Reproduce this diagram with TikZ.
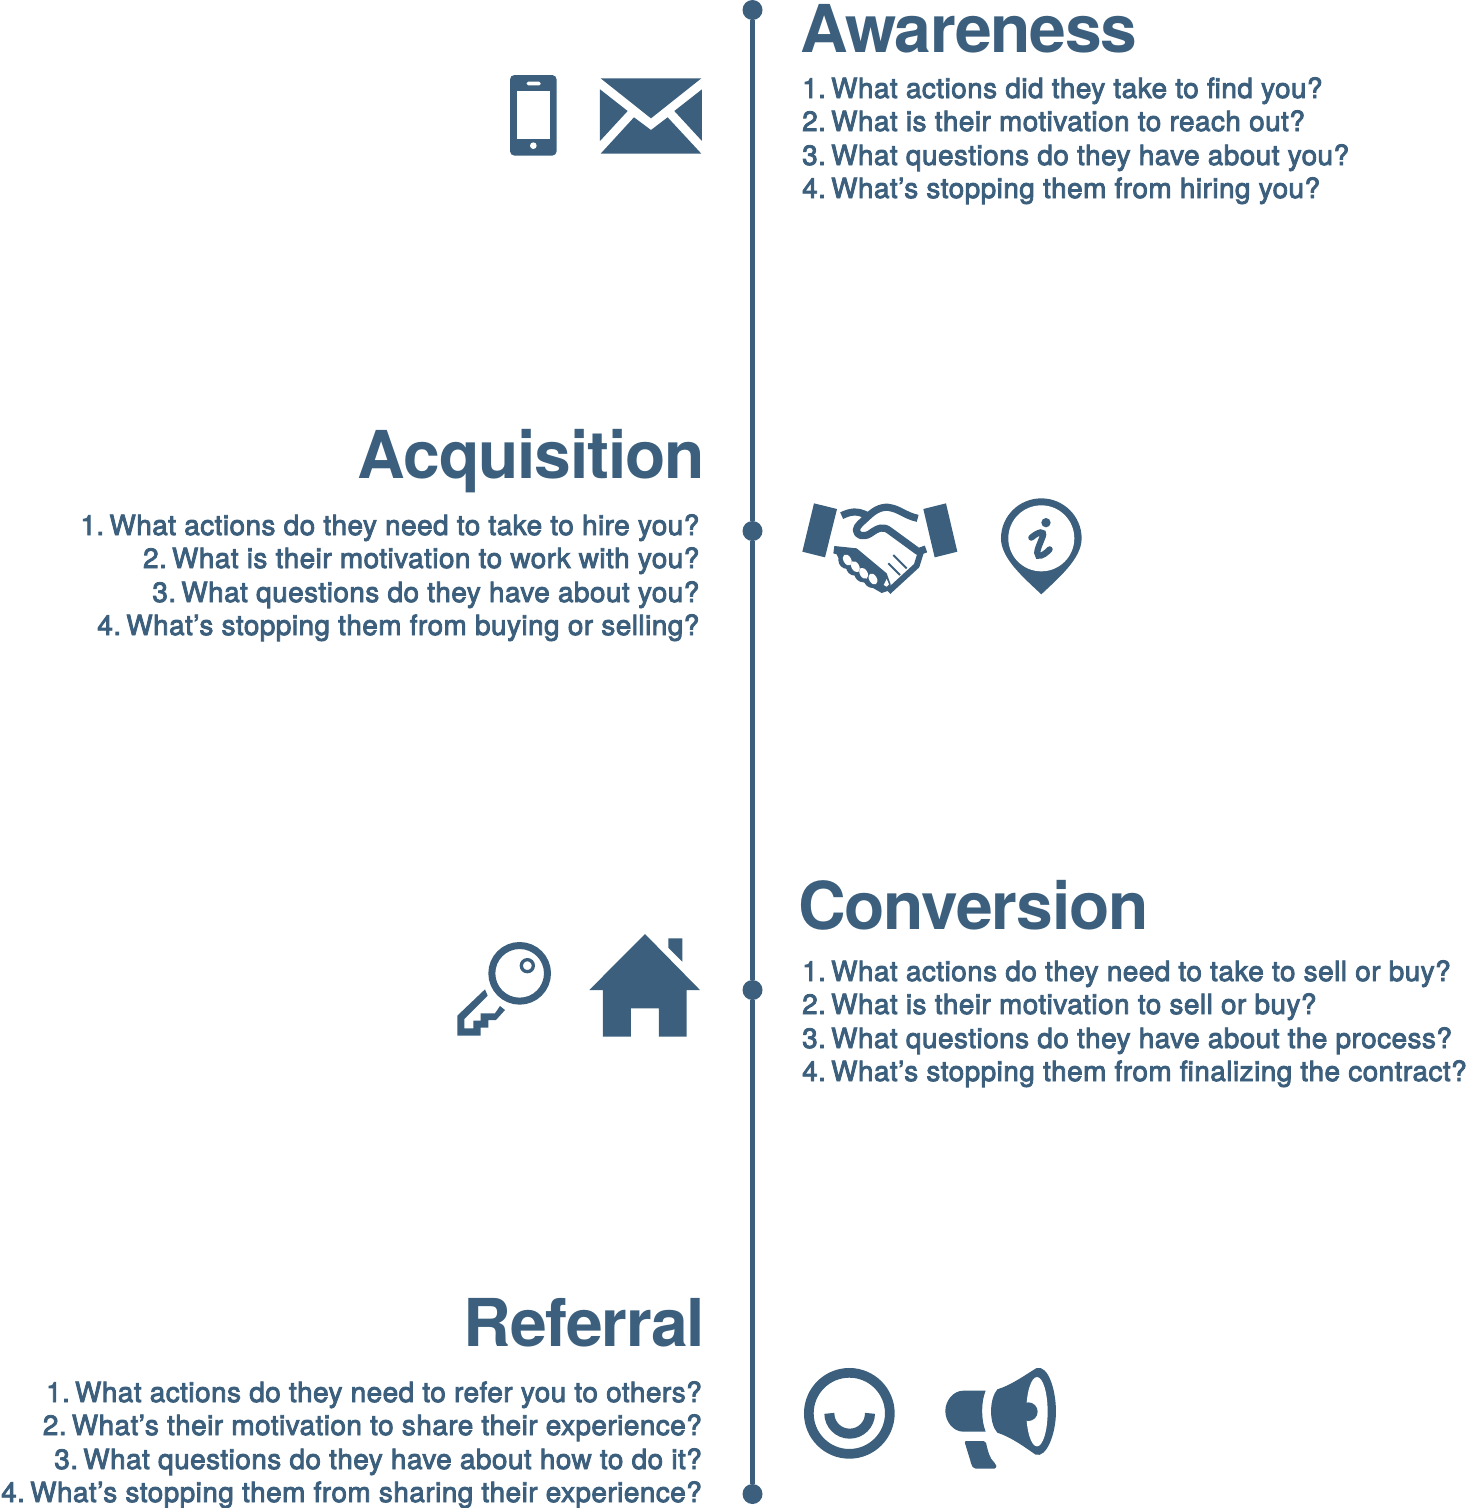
\documentclass[tikz,border=0pt]{standalone}
\usepackage{fontspec}
\newfontfamily\bodyf{TeX Gyre Heros}[FakeBold=3,LetterSpace=1.7]
\newfontfamily\headf{TeX Gyre Heros Bold}[LetterSpace=-1.8]
\definecolor{ink}{HTML}{3B5F7C}
\newcommand{\nk}{\kern-3pt }
\tikzset{
  bodyline/.style={inner sep=0pt,text=ink,font=\bodyf\frenchspacing\fontsize{27.9}{30}\selectfont},
  headline/.style={inner sep=0pt,text=ink,font=\headf\fontsize{66}{70}\selectfont},
  dotmark/.style={circle,fill=ink,inner sep=0pt,minimum size=20pt},
  spine/.style={draw=ink,line width=4.6pt},
  icon/.style={fill=ink,draw=none},
  band/.style={draw=ink,line width=7.2pt,line cap=butt,line join=round},
  thinband/.style={draw=ink,line width=6pt,line cap=butt,line join=round},
  zoomA/.style={shift={(490,60)},x=0.3333pt,y=-0.3333pt},
  zoomB/.style={shift={(790,490)},x=0.3333pt,y=-0.3333pt},
  zoomC/.style={shift={(445,925)},x=0.3333pt,y=-0.3333pt},
  zoomD/.style={shift={(795,1360)},x=0.3333pt,y=-0.3333pt},
  zoomE/.style={shift={(825,495)},x=0.3333pt,y=-0.3333pt},
}
\begin{document}
\begin{tikzpicture}[x=1pt,y=-1pt]
\useasboundingbox (0,0) rectangle (1471,1508);
% spine
\node[dotmark] (d1) at (752.5,10) {};
\node[dotmark] (d2) at (752.5,531) {};
\node[dotmark] (d3) at (752.5,990) {};
\node[dotmark] (d4) at (752.5,1494) {};
\draw[spine] (d1) -- (d2);
\draw[spine] (d2) -- (d3);
\draw[spine] (d3) -- (d4);
% Awareness
\node[headline,anchor=base west] (h1) at (800,52) {Awareness};
\node[bodyline,anchor=base west] (a1) at (802,98) {1. \nk What actions did they take to find you?};
\node[bodyline,anchor=base west] (a2) at (802,131) {2. \nk What is their motivation to reach out?};
\node[bodyline,anchor=base west] (a3) at (802,165) {3. \nk What questions do they have about you?};
\node[bodyline,anchor=base west] (a4) at (802,198) {4. \nk What’s stopping them from hiring you?};
% Acquisition
\node[headline,anchor=base east] (h2) at (705,478) {Acquisition};
\node[bodyline,anchor=base east] (b1) at (699.5,535) {1. \nk What actions do they need to take to hire you?};
\node[bodyline,anchor=base east] (b2) at (699.5,568) {2. \nk What is their motivation to work with you?};
\node[bodyline,anchor=base east] (b3) at (699.5,602) {3. \nk What questions do they have about you?};
\node[bodyline,anchor=base east] (b4) at (699.5,635) {4. \nk What’s stopping them from buying or selling?};
% Conversion
\node[headline,anchor=base west] (h3) at (798,929) {Conversion};
\node[bodyline,anchor=base west] (c1) at (802,981) {1. \nk What actions do they need to take to sell or buy?};
\node[bodyline,anchor=base west] (c2) at (802,1014) {2. \nk What is their motivation to sell or buy?};
\node[bodyline,anchor=base west] (c3) at (802,1048) {3. \nk What questions do they have about the process?};
\node[bodyline,anchor=base west] (c4) at (802,1081) {4. \nk What’s stopping them from finalizing the contract?};
% Referral
\node[headline,anchor=base east] (h4) at (705,1346) {Referral};
\node[bodyline,anchor=base east] (e1) at (702,1402) {1. \nk What actions do they need to refer you to others?};
\node[bodyline,anchor=base east] (e2) at (702,1435) {2. \nk What’s their motivation to share their experience?};
\node[bodyline,anchor=base east] (e3) at (702,1469) {3. \nk What questions do they have about how to do it?};
\node[bodyline,anchor=base east] (e4) at (702,1502) {4. \nk What’s stopping them from sharing their experience?};
% phone
\begin{scope}[zoomA]
\fill[icon,rounded corners=4.5pt] (60,45) rectangle (200,287);
\fill[white] (80,94) rectangle (181,237);
\fill[white,rounded corners=1.5pt] (110,65) rectangle (152,76);
\fill[white] (130,257) circle[radius=10];
% envelope
\fill[icon] (332,55) -- (634,55) -- (483,175) -- cycle;
\fill[icon] (330,88) -- (413,153) -- (330,243) -- cycle;
\fill[icon] (636,88) -- (553,153) -- (636,243) -- cycle;
\fill[icon] (332,281) -- (432,172) -- (483,210) -- (533,172) -- (634,281) -- cycle;
\end{scope}
% handshake cuffs and pin
\begin{scope}[zoomB]
\fill[icon] (72,40) -- (141,57) -- (105,202) -- (37,185) -- cycle;
\fill[icon] (400,57) -- (468,40) -- (502,185) -- (434,202) -- cycle;
\fill[icon] (754,25) .. controls (687,25) and (633,79) .. (633,145) .. controls (633,205) and (700,262) .. (754,313) .. controls (808,262) and (875,205) .. (875,145) .. controls (875,79) and (821,25) .. (754,25) -- cycle;
\fill[white] (754,145) circle[radius=99];
\fill[icon] (768,98) circle[radius=14];
\draw[draw=ink,line width=6.2pt,line cap=round] (724,143) .. controls (745,125) and (765,120) .. (758,140) .. controls (750,162) and (735,190) .. (745,197) .. controls (755,200) and (770,188) .. (779,178);
\end{scope}
% handshake hands
\begin{scope}[zoomE]
\fill[icon] (28,153) -- (95,160) -- (185,235) -- (197,268) -- (197,285) -- (170,294) -- (125,268) -- (100,248) -- (75,228) -- (48,205) -- (35,178) -- (25,175) -- cycle;
\fill[icon] (67,195) circle[radius=27];
\fill[icon] (90,215) circle[radius=27];
\fill[icon] (115,235) circle[radius=27];
\fill[icon] (143,252) circle[radius=27];
\fill[white,rotate around={-60:(67,195)}] (67,195) ellipse[x radius=18,y radius=11.5];
\fill[white,rotate around={-60:(91,215)}] (91,215) ellipse[x radius=18,y radius=11.5];
\fill[white,rotate around={-60:(116,235)}] (116,235) ellipse[x radius=18,y radius=11.5];
\fill[white,rotate around={-60:(144,252)}] (144,252) ellipse[x radius=18,y radius=11.5];
\fill[white] (176,270) -- (185,252) -- (192,268) -- (185,275) -- cycle;
\draw[thinband] (190,290) -- (275,212) -- (288,170);
\draw[band] (303,162) -- (280,170) -- (195,108) .. controls (175,92) and (160,98) .. (135,116) .. controls (115,128) and (95,122) .. (94,105) .. controls (95,92) and (112,80) .. (125,68) .. controls (145,48) and (165,35) .. (190,37) .. controls (225,42) and (240,62) .. (278,70);
\draw[band] (50,62) .. controls (75,50) and (95,45) .. (128,62);
\draw[draw=ink,line width=2pt] (205,180) -- (245,220);
\draw[draw=ink,line width=2pt] (190,205) -- (225,240);
\end{scope}
% key and house
\begin{scope}[zoomC]
\draw[draw=ink,line width=7pt] (224,145) circle[radius=83.5];
\draw[draw=ink,line width=3.3pt] (247,122) circle[radius=18];
\fill[icon] (120,193) -- (128,212) -- (58,282) -- (58,310) -- (85,310) -- (85,287) -- (107,287) -- (107,265) -- (150,265) -- (165,243) -- (180,255) -- (153,285) -- (130,285) -- (130,308) -- (107,308) -- (107,332) -- (37,332) -- (37,272) -- cycle;
\fill[icon] (600,27) -- (765,195) -- (725,195) -- (725,335) -- (642,335) -- (642,250) -- (558,250) -- (558,335) -- (474,335) -- (474,195) -- (433,195) -- cycle;
\fill[icon] (670,40) -- (712,40) -- (712,110) -- (670,68) -- cycle;
\end{scope}
% smile and megaphone
\begin{scope}[zoomD]
\draw[draw=ink,line width=9.7pt] (163,160) circle[radius=121.5];
\draw[draw=ink,line width=10pt] (103,160) arc[start angle=180,end angle=0,radius=61];
\fill[icon] (572,92) -- (505,92) .. controls (475,92) and (451,122) .. (451,153) .. controls (451,185) and (475,215) .. (505,215) -- (572,215) .. controls (558,180) and (558,125) .. (572,92) -- cycle;
\fill[icon,rounded corners=2pt] (508,243) -- (572,243) .. controls (578,270) and (583,295) .. (603,312) .. controls (605,322) and (600,326) .. (592,326) -- (548,326) .. controls (535,326) and (530,318) .. (527,305) -- cycle;
\fill[icon] (607,88) .. controls (650,75) and (690,45) .. (725,24) .. controls (760,15) and (783,90) .. (783,155) .. controls (783,220) and (755,295) .. (722,284) .. controls (690,262) and (650,232) .. (607,218) .. controls (582,190) and (582,118) .. (607,88) -- cycle;
\fill[white] (726,155) ellipse[x radius=32,y radius=104];
\fill[icon] (700,155) circle[radius=28];
\end{scope}
\end{tikzpicture}
\end{document}
